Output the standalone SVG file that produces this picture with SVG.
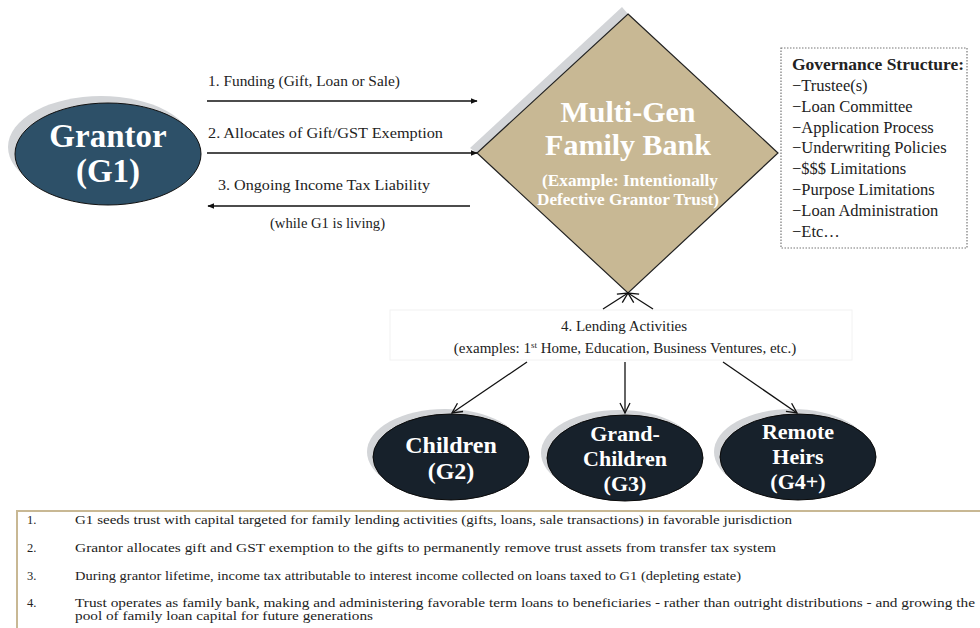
<svg xmlns="http://www.w3.org/2000/svg" width="980" height="628" viewBox="0 0 980 628">
<defs>
<marker id="ah" viewBox="0 0 10 10" refX="9" refY="5" markerWidth="7" markerHeight="7" orient="auto-start-reverse" markerUnits="userSpaceOnUse"><path d="M0,1 L10,5 L0,9 Z" fill="#111"/></marker>
<marker id="open" viewBox="0 0 12 12" refX="11" refY="6" markerWidth="12" markerHeight="12" orient="auto" markerUnits="userSpaceOnUse"><path d="M1,1 L11,6 L1,11" fill="none" stroke="#111" stroke-width="1.3"/></marker>
<style>
text{font-family:'Liberation Serif','DejaVu Serif','Times New Roman',serif}
.lbl{font-size:15px;fill:#222}
.gov{font-size:16.5px;fill:#222}
.note{font-size:12.5px;fill:#222}
.wt{font-weight:bold;fill:#fff;text-anchor:middle}
.conn{stroke:#111;stroke-width:1.3;fill:none}
.shadow{fill:#d3d5d8}
.dark{fill:#17212b;stroke:#0a0a0a;stroke-width:1}
</style>
</defs>
<rect width="980" height="628" fill="#fff"/>

<g id="grantor">
<ellipse class="shadow" cx="101" cy="147" rx="93" ry="51"/>
<ellipse cx="108" cy="154" rx="93" ry="51" fill="#2d5068" stroke="#111" stroke-width="1"/>
<text class="wt" x="108" y="147" font-size="33">Grantor</text>
<text class="wt" x="108" y="182" font-size="33">(G1)</text>
</g>

<g id="bank">
<polygon class="shadow" points="622,7 628,14 477,153 470,148"/>
<polygon points="628,14 778,153 628,293 477,153" fill="#c8b894" stroke="#222" stroke-width="1.2"/>
<text class="wt" x="628" y="122" font-size="30">Multi-Gen</text>
<text class="wt" x="628" y="155" font-size="30">Family Bank</text>
<text class="wt" x="630" y="186" font-size="16" textLength="176" lengthAdjust="spacingAndGlyphs">(Example: Intentionally</text>
<text class="wt" x="628" y="205" font-size="16" textLength="182" lengthAdjust="spacingAndGlyphs">Defective Grantor  Trust)</text>
</g>

<g id="governance">
<rect x="781" y="48" width="186" height="200" fill="#fff" stroke="#777" stroke-width="1.2" stroke-dasharray="1.5,1.5"/>
<text class="gov" x="792" y="70" font-weight="bold" textLength="172" lengthAdjust="spacingAndGlyphs">Governance Structure:</text>
<text class="gov" x="792" y="91">−Trustee(s)</text>
<text class="gov" x="792" y="112">−Loan Committee</text>
<text class="gov" x="792" y="133">−Application Process</text>
<text class="gov" x="792" y="153">−Underwriting Policies</text>
<text class="gov" x="792" y="174">−$$$ Limitations</text>
<text class="gov" x="792" y="195">−Purpose Limitations</text>
<text class="gov" x="792" y="216">−Loan Administration</text>
<text class="gov" x="792" y="237">−Etc…</text>
</g>

<g id="lending">
<rect x="390" y="310" width="462" height="50" fill="#fff" stroke="#f2f2f2" stroke-width="1"/>
<text class="lbl" x="624" y="331" text-anchor="middle">4. Lending Activities</text>
<text class="lbl" x="625" y="353" text-anchor="middle">(examples: 1<tspan font-size="9" dy="-5">st</tspan><tspan dy="5"> Home, Education, Business Ventures, etc.)</tspan></text>
</g>

<g id="children">
<ellipse class="shadow" cx="445" cy="452" rx="78" ry="43"/>
<ellipse class="dark" cx="451" cy="457" rx="78" ry="43"/>
<text class="wt" x="451" y="453" font-size="24">Children</text>
<text class="wt" x="451" y="479" font-size="24">(G2)</text>
</g>

<g id="grandchildren">
<ellipse class="shadow" cx="619" cy="453" rx="78" ry="43"/>
<ellipse class="dark" cx="625" cy="458" rx="78" ry="43"/>
<text class="wt" x="625" y="441" font-size="22">Grand-</text>
<text class="wt" x="625" y="466" font-size="22">Children</text>
<text class="wt" x="625" y="491" font-size="22">(G3)</text>
</g>

<g id="remoteheirs">
<ellipse class="shadow" cx="792" cy="452" rx="78" ry="43"/>
<ellipse class="dark" cx="798" cy="457" rx="78" ry="43"/>
<text class="wt" x="798" y="439" font-size="22">Remote</text>
<text class="wt" x="798" y="464" font-size="22">Heirs</text>
<text class="wt" x="798" y="489" font-size="22">(G4+)</text>
</g>

<g id="connectors">
<line class="conn" x1="207" y1="101" x2="477" y2="101" marker-end="url(#ah)"/>
<text class="lbl" x="208" y="86" textLength="192" lengthAdjust="spacingAndGlyphs">1.  Funding (Gift, Loan or Sale)</text>
<line class="conn" x1="207" y1="153" x2="477" y2="153" marker-end="url(#ah)"/>
<text class="lbl" x="208" y="138" textLength="235" lengthAdjust="spacingAndGlyphs">2.  Allocates of Gift/GST Exemption</text>
<line class="conn" x1="470" y1="206" x2="208" y2="206" marker-end="url(#ah)"/>
<text class="lbl" x="218" y="190" textLength="212" lengthAdjust="spacingAndGlyphs">3.    Ongoing Income Tax Liability</text>
<text class="lbl" x="270" y="228" textLength="115" lengthAdjust="spacingAndGlyphs">(while G1 is living)</text>
<line class="conn" x1="603" y1="309" x2="628" y2="293" marker-end="url(#open)"/>
<line class="conn" x1="653" y1="309" x2="628" y2="293" marker-end="url(#open)"/>
<line class="conn" x1="527" y1="362" x2="452" y2="413" marker-end="url(#open)"/>
<line class="conn" x1="625" y1="362" x2="625" y2="413" marker-end="url(#open)"/>
<line class="conn" x1="723" y1="362" x2="797" y2="413" marker-end="url(#open)"/>
</g>

<g id="notes">
<rect x="17" y="511" width="980" height="130" fill="none" stroke="#c8b894" stroke-width="2"/>
<text class="note" x="27" y="524">1.</text>
<text class="note" x="75" y="524" textLength="717" lengthAdjust="spacingAndGlyphs">G1 seeds trust with capital targeted  for family lending activities (gifts, loans, sale transactions) in favorable jurisdiction</text>
<text class="note" x="27" y="552">2.</text>
<text class="note" x="75" y="552" textLength="701" lengthAdjust="spacingAndGlyphs">Grantor allocates gift and GST exemption to the gifts to permanently remove  trust assets from transfer tax system</text>
<text class="note" x="27" y="580">3.</text>
<text class="note" x="75" y="580" textLength="666" lengthAdjust="spacingAndGlyphs">During grantor lifetime, income tax attributable to interest income collected on loans taxed to G1 (depleting estate)</text>
<text class="note" x="27" y="607">4.</text>
<text class="note" x="75" y="607" textLength="900" lengthAdjust="spacingAndGlyphs">Trust operates as family bank, making and administering  favorable term loans  to beneficiaries - rather than outright distributions - and growing the</text>
<text class="note" x="75" y="620" textLength="298" lengthAdjust="spacingAndGlyphs">pool of  family loan capital for future generations</text>
</g>
</svg>
